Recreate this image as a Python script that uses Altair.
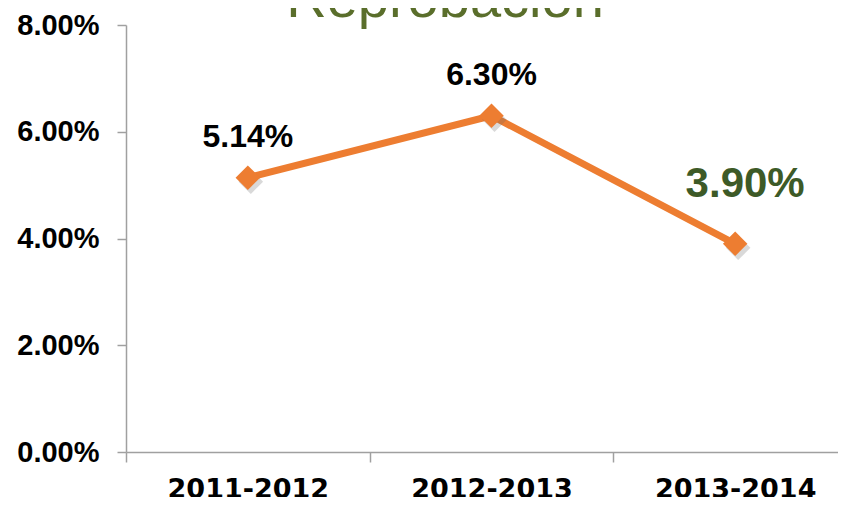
import altair as alt
import pandas as pd

title_text = "Reprobación"
periods = ["2011-2012", "2012-2013", "2013-2014"]
rates = [0.0514, 0.0630, 0.0390]
y_ticks = [0.0, 0.02, 0.04, 0.06, 0.08]

df = pd.DataFrame({"period": periods, "rate": rates})

ORANGE = "#ED7D31"
GRAY = "#A0A0A0"

x_enc = alt.X(
    "period:N",
    sort=periods,
    scale=alt.Scale(paddingInner=0, paddingOuter=0, range=[0, 731]),
    axis=alt.Axis(
        title=None,
        labelAngle=0,
        labelFont="DejaVu Sans",
        labelFontWeight="bold",
        labelFontSize=27,
        labelColor="#000000",
        labelPadding=14,
        tickBand="extent",
        tickSize=10,
        tickColor=GRAY,
        tickWidth=1.5,
        domainColor=GRAY,
        domainWidth=1.5,
        grid=False,
    ),
)
y_enc = alt.Y(
    "rate:Q",
    scale=alt.Scale(domain=[0, 0.08], nice=False),
    axis=alt.Axis(
        title=None,
        values=y_ticks,
        format=".2%",
        labelFont="Liberation Sans",
        labelFontWeight="bold",
        labelFontSize=29,
        labelColor="#000000",
        labelPadding=18,
        tickSize=9,
        tickColor=GRAY,
        tickWidth=1.5,
        domainColor=GRAY,
        domainWidth=1.5,
        grid=False,
    ),
)

base = alt.Chart(df).encode(x=x_enc, y=y_enc)

line = base.mark_line(color=ORANGE, strokeWidth=7)
shadow = base.mark_point(
    shape="diamond", filled=True, size=600, color="#666666", opacity=0.25,
    xOffset=3, yOffset=4,
)
points = base.mark_point(shape="diamond", filled=True, size=600, color=ORANGE, opacity=1)

labels_black = base.mark_text(
    font="Liberation Sans", fontWeight="bold", fontSize=32, color="#000000",
    baseline="alphabetic", dy=-31,
).encode(text=alt.Text("rate:Q", format=".2%")).transform_filter(
    alt.FieldOneOfPredicate(field="period", oneOf=periods[:2])
)
labels_green = base.mark_text(
    font="Liberation Sans", fontWeight="bold", fontSize=42, color="#3D5A27",
    baseline="alphabetic", dy=-47, dx=10,
).encode(text=alt.Text("rate:Q", format=".2%")).transform_filter(
    alt.FieldEqualPredicate(field="period", equal=periods[2])
)

title = alt.Chart(pd.DataFrame({"t": [title_text]})).mark_text(
    font="Liberation Sans", fontSize=56, color="#5A6E2B", baseline="alphabetic",
    align="center",
).encode(x=alt.value(319), y=alt.value(-8), text="t:N")

chart = alt.layer(line, shadow, points, labels_black, labels_green, title).properties(
    width=712,
    height=427,
    autosize=alt.AutoSizeParams(type="none"),
    padding={"left": 118, "top": 17, "right": 0, "bottom": 45},
).configure_view(stroke=None)

chart.save("out.html", embed_options={"renderer": "svg", "actions": False})
